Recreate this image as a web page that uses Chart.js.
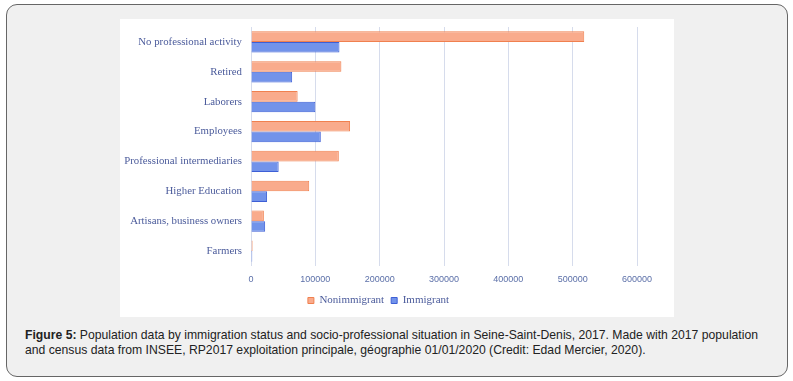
<!DOCTYPE html>
<html lang="en">
<head>
<meta charset="utf-8" />
<title>Figure 5 — Seine-Saint-Denis, 2017</title>
<script src="https://cdn.jsdelivr.net/npm/chart.js@4.4.1/dist/chart.umd.min.js"></script>
<style>
  html, body { margin: 0; padding: 0; background: #fff; }
  body { width: 793px; height: 381px; position: relative; overflow: hidden; }
  .frame { position: absolute; left: 6px; top: 4px; width: 780px; height: 371px; background: #f0f0f0; border: 1.5px solid #666; border-radius: 11px; }
  .plot { position: absolute; left: 120px; top: 19px; width: 554px; height: 298px; background: #fff; }
  .plot canvas { display: block; }
  .caption { position: absolute; left: 25px; top: 328px; width: 742px; font: 12.2px 'Liberation Sans', Arial, sans-serif; line-height: 14.5px; color: #222; }
</style>
</head>
<body>
  <div class="frame"></div>
  <div class="plot"><canvas id="c" width="554" height="298"></canvas></div>
  <div class="caption"><b>Figure 5:</b> Population data by immigration status and socio-professional situation in Seine-Saint-Denis, 2017. Made with 2017 population and census data from INSEE, RP2017 exploitation principale, géographie 01/01/2020 (Credit: Edad Mercier, 2020).</div>

<script>
const categories = [
  'No professional activity',
  'Retired',
  'Laborers',
  'Employees',
  'Professional intermediaries',
  'Higher Education',
  'Artisans, business owners',
  'Farmers',
];
const nonimmigrant = [518000, 140500, 72500, 154000, 136500, 90500, 20000, 2500];
const immigrant = [137500, 64000, 100000, 108500, 43000, 25000, 22000, 2000];
const xTicks = [0, 100000, 200000, 300000, 400000, 500000, 600000];

new Chart(document.getElementById('c'), {
  type: 'bar',
  data: {
    labels: categories,
    datasets: [
      { label: 'Nonimmigrant', data: nonimmigrant, backgroundColor: '#f9ab8c', borderColor: '#f0804f', borderWidth: 1 },
      { label: 'Immigrant', data: immigrant, backgroundColor: '#7293ea', borderColor: '#3d5fd6', borderWidth: 1 },
    ],
  },
  options: {
    indexAxis: 'y',
    responsive: false,
    animation: false,
    categoryPercentage: 0.71,
    barPercentage: 1,
    layout: { padding: { top: 8, right: 37, left: 0, bottom: 1 } },
    plugins: {
      tooltip: { enabled: false },
      legend: {
        position: 'bottom',
        labels: {
          boxWidth: 6, boxHeight: 6, padding: 7,
          color: '#4b5b9b',
          font: { family: "'Liberation Serif', 'DejaVu Serif', serif", size: 11 },
        },
      },
    },
    scales: {
      x: {
        min: 0, max: 600000,
        afterBuildTicks: (s) => { s.ticks = xTicks.map((v) => ({ value: v })); },
        afterFit: (s) => { s.height = 22; },
        grid: { color: '#d6dcec', drawTicks: false },
        border: { display: false },
        ticks: {
          padding: 8, color: '#5b6fa8',
          font: { family: "'Liberation Sans', Arial, sans-serif", size: 9 },
          callback: (v) => String(v),
        },
      },
      y: {
        afterFit: (s) => { s.width = 131; s.paddingTop = 0; s.paddingBottom = 0; },
        grid: { display: false, drawTicks: false },
        border: { display: false },
        ticks: { padding: 9, color: '#4b5b9b', font: { family: "'Liberation Serif', 'DejaVu Serif', serif", size: 10.8 } },
      },
    },
  },
});
</script>
</body>
</html>
